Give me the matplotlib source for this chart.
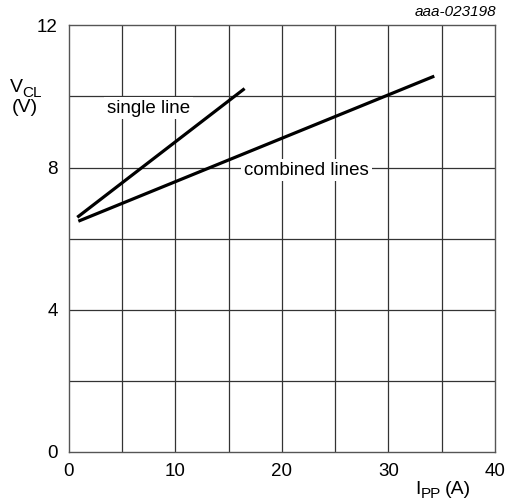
import matplotlib
matplotlib.use("Agg")
import matplotlib.pyplot as plt
import numpy as np

plt.rcParams['font.family'] = ['Liberation Sans', 'DejaVu Sans']

# data
single_x = [0.8, 16.5]
single_y = [6.6, 10.22]
combined_x = [0.9, 34.3]
combined_y = [6.49, 10.57]

x_ticks = [0, 10, 20, 30, 40]
y_ticks = [0, 4, 8, 12]

fig = plt.figure(figsize=(5.13, 5.04), dpi=100)
ax = fig.add_axes([0.134, 0.1032, 0.831, 0.8466])
ax.set_xlim(0, 40)
ax.set_ylim(0, 12)

grid_col = "#333333"
for gx in np.arange(5, 40, 5):
    ax.axvline(gx, color=grid_col, lw=0.9, zorder=1)
for gy in np.arange(2, 12, 2):
    ax.axhline(gy, color=grid_col, lw=0.9, zorder=1)
for s in ax.spines.values():
    s.set_color("#555555")
    s.set_linewidth(1.0)

ax.plot(single_x, single_y, color="black", lw=2.3, solid_capstyle="butt", zorder=3)
ax.plot(combined_x, combined_y, color="black", lw=2.3, solid_capstyle="butt", zorder=3)

box = dict(facecolor="white", edgecolor="none", pad=2)
ax.text(7.45, 9.67, "single line", fontsize=13.5, ha="center", va="center", bbox=box, zorder=2)
ax.text(22.3, 7.93, "combined lines", fontsize=13.5, ha="center", va="center", bbox=box, zorder=2)

ax.set_xticks(x_ticks)
ax.set_yticks(y_ticks)
ax.tick_params(length=0, labelsize=13.5, pad=8)

# axis labels with hand-placed subscripts
fig.text(10 / 513, 1 - 88 / 504, "V", fontsize=14, ha="left", va="center")
fig.text(22.5 / 513, 1 - 93 / 504, "CL", fontsize=11, ha="left", va="center")
fig.text(25 / 513, 1 - 107 / 504, "(V)", fontsize=14, ha="center", va="center")
fig.text(415 / 513, 1 - 490 / 504, "I", fontsize=14, ha="left", va="center")
fig.text(421 / 513, 1 - 494 / 504, "PP", fontsize=11, ha="left", va="center")
fig.text(445 / 513, 1 - 490 / 504, "(A)", fontsize=14, ha="left", va="center")
fig.text(496 / 513, 1 - 12 / 504, "aaa-023198", fontsize=11, style="italic", ha="right", va="center")

fig.savefig("out.png", dpi=100)
